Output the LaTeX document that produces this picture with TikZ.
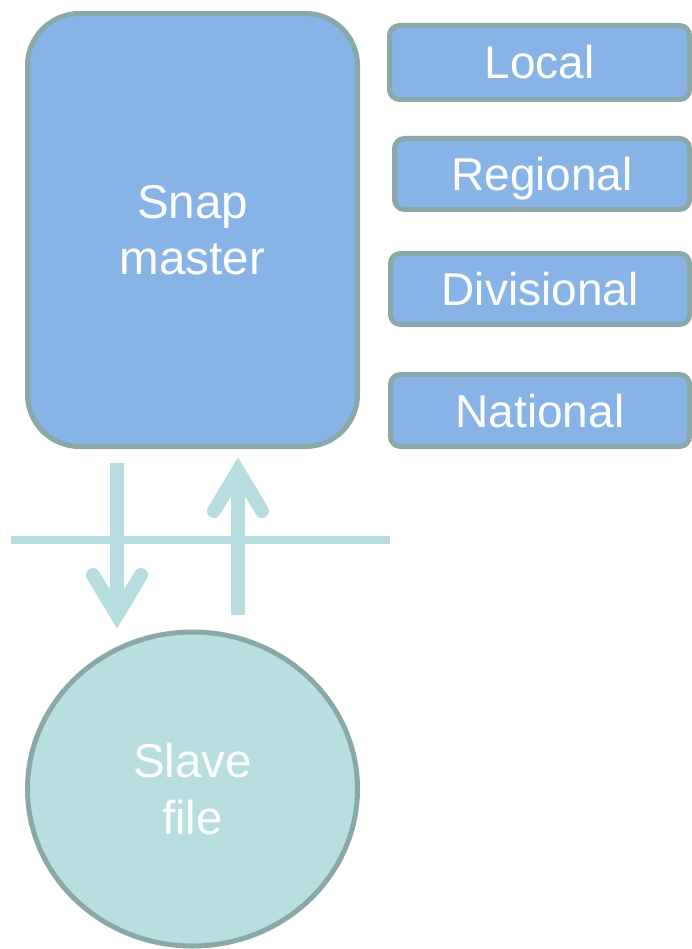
\documentclass[tikz,border=0pt]{standalone}
\usepackage{fontspec}
\setmainfont{Liberation Sans}
\usetikzlibrary{shapes.geometric,calc}
\definecolor{boxblue}{HTML}{88B3E6}
\definecolor{edgegrey}{HTML}{8AA8A8}
\definecolor{paleteal}{HTML}{B8DEE0}
\definecolor{arrowteal}{HTML}{B7DDE0}
\begin{document}
\begin{tikzpicture}[x=1pt,y=-1pt,
  bigbox/.style={draw=edgegrey, fill=boxblue, line width=5pt, rounded corners=52pt,
    minimum width=330pt, minimum height=433pt, inner sep=0pt, text=white,
    align=center, font=\fontsize{47.5}{56}\selectfont},
  tagbox/.style={draw=edgegrey, fill=boxblue, line width=5pt, rounded corners=10pt,
    inner sep=0pt, text=white, font=\fontsize{46}{56}\selectfont,
    text height=33pt, text depth=0pt},
  slavefile/.style={ellipse, draw=edgegrey, fill=paleteal, line width=5pt,
    minimum width=330pt, minimum height=314pt, inner sep=0pt, text=white,
    align=center, font=\fontsize{47.5}{57}\selectfont},
  flow/.style={draw=arrowteal, line width=14pt, line cap=butt},
  flowhead/.style={draw=arrowteal, line width=14pt, line cap=round, line join=miter},
  divider/.style={draw=arrowteal, line width=8pt}
]
\useasboundingbox (0,0) rectangle (691,949);

\node[bigbox] (master) at (192.5,230) {Snap\\master};

\node[tagbox, minimum width=300pt, minimum height=74pt] (local) at (539.5,62.5) {Local};
\node[tagbox, minimum width=295pt, minimum height=71pt] (regional) at (542,174) {Regional};
\node[tagbox, minimum width=299pt, minimum height=71pt] (divisional) at (540,289) {Divisional};
\node[tagbox, minimum width=299pt, minimum height=72pt] (national) at (540,410.5) {National};

\node[slavefile] (slave) at (192.5,789) {Slave\\file};

\coordinate (dl) at (11,540);
\coordinate (dr) at (390,540);
\draw[divider] (dl) -- (dr);

% down arrow (master -> slave)
\coordinate (dtop) at (117,463);
\coordinate (dapex) at (117,615);
\draw[flow] (dtop) -- (dapex);
\draw[flowhead] ($(dapex)+(-24,-40)$) -- (dapex) -- ($(dapex)+(24,-40)$);

% up arrow (slave -> master)
\coordinate (ubot) at (238,615);
\coordinate (uapex) at (238,471);
\draw[flow] (ubot) -- (uapex);
\draw[flowhead] ($(uapex)+(-24,40)$) -- (uapex) -- ($(uapex)+(24,40)$);
\end{tikzpicture}
\end{document}
